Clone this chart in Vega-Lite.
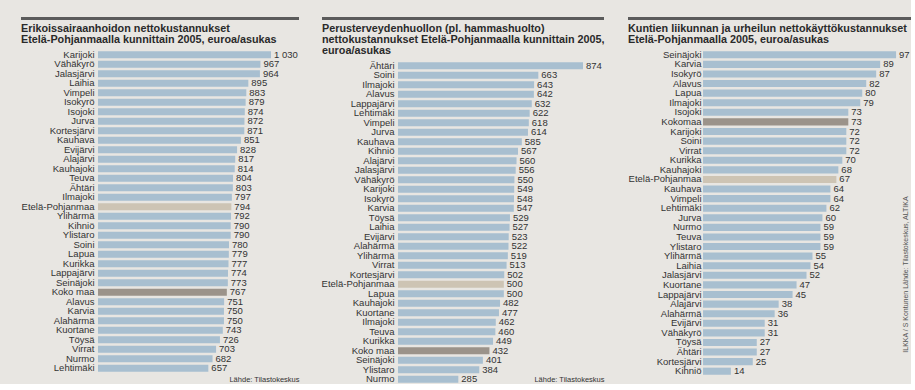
{
  "$schema": "https://vega.github.io/schema/vega-lite/v6.json",
  "background": "#e8e6e2",
  "padding": {"left": 20, "top": 16, "right": 0, "bottom": 0},
  "config": {
    "locale": {"number": {"decimal": ",", "thousands": "\u00a0", "grouping": [3], "currency": ["", ""]}},
    "view": {"stroke": null},
    "font": "Liberation Sans",
    "title": {"anchor": "start", "frame": "group", "fontSize": 10.8, "fontWeight": "bold", "color": "#2a2a2a", "lineHeight": 11, "offset": 4},
    "axisY": {"ticks": false, "tickSize": 0, "domain": false, "grid": false, "labelFontSize": 9.5, "labelColor": "#333333", "labelPadding": 4, "title": null},
    "axisX": {"labels": false, "ticks": false, "tickSize": 0, "domain": false, "grid": false, "titleFontSize": 7.5, "titleFontWeight": "normal", "titleColor": "#333333", "titleAnchor": "end"},
    "text": {"fontSize": 9.5, "color": "#333333"}
  },
  "datasets": {
    "p1": [
      {"kunta": "Karijoki", "arvo": 1030, "ryhma": "kunta"},
      {"kunta": "Vähäkyrö", "arvo": 967, "ryhma": "kunta"},
      {"kunta": "Jalasjärvi", "arvo": 964, "ryhma": "kunta"},
      {"kunta": "Laihia", "arvo": 895, "ryhma": "kunta"},
      {"kunta": "Vimpeli", "arvo": 883, "ryhma": "kunta"},
      {"kunta": "Isokyrö", "arvo": 879, "ryhma": "kunta"},
      {"kunta": "Isojoki", "arvo": 874, "ryhma": "kunta"},
      {"kunta": "Jurva", "arvo": 872, "ryhma": "kunta"},
      {"kunta": "Kortesjärvi", "arvo": 871, "ryhma": "kunta"},
      {"kunta": "Kauhava", "arvo": 851, "ryhma": "kunta"},
      {"kunta": "Evijärvi", "arvo": 828, "ryhma": "kunta"},
      {"kunta": "Alajärvi", "arvo": 817, "ryhma": "kunta"},
      {"kunta": "Kauhajoki", "arvo": 814, "ryhma": "kunta"},
      {"kunta": "Teuva", "arvo": 804, "ryhma": "kunta"},
      {"kunta": "Ähtäri", "arvo": 803, "ryhma": "kunta"},
      {"kunta": "Ilmajoki", "arvo": 797, "ryhma": "kunta"},
      {"kunta": "Etelä-Pohjanmaa", "arvo": 794, "ryhma": "maakunta"},
      {"kunta": "Ylihärmä", "arvo": 792, "ryhma": "kunta"},
      {"kunta": "Kihniö", "arvo": 790, "ryhma": "kunta"},
      {"kunta": "Ylistaro", "arvo": 790, "ryhma": "kunta"},
      {"kunta": "Soini", "arvo": 780, "ryhma": "kunta"},
      {"kunta": "Lapua", "arvo": 779, "ryhma": "kunta"},
      {"kunta": "Kurikka", "arvo": 777, "ryhma": "kunta"},
      {"kunta": "Lappajärvi", "arvo": 774, "ryhma": "kunta"},
      {"kunta": "Seinäjoki", "arvo": 773, "ryhma": "kunta"},
      {"kunta": "Koko maa", "arvo": 767, "ryhma": "maa"},
      {"kunta": "Alavus", "arvo": 751, "ryhma": "kunta"},
      {"kunta": "Karvia", "arvo": 750, "ryhma": "kunta"},
      {"kunta": "Alahärmä", "arvo": 750, "ryhma": "kunta"},
      {"kunta": "Kuortane", "arvo": 743, "ryhma": "kunta"},
      {"kunta": "Töysä", "arvo": 726, "ryhma": "kunta"},
      {"kunta": "Virrat", "arvo": 703, "ryhma": "kunta"},
      {"kunta": "Nurmo", "arvo": 682, "ryhma": "kunta"},
      {"kunta": "Lehtimäki", "arvo": 657, "ryhma": "kunta"}
    ],
    "p2": [
      {"kunta": "Ähtäri", "arvo": 874, "ryhma": "kunta"},
      {"kunta": "Soini", "arvo": 663, "ryhma": "kunta"},
      {"kunta": "Ilmajoki", "arvo": 643, "ryhma": "kunta"},
      {"kunta": "Alavus", "arvo": 642, "ryhma": "kunta"},
      {"kunta": "Lappajärvi", "arvo": 632, "ryhma": "kunta"},
      {"kunta": "Lehtimäki", "arvo": 622, "ryhma": "kunta"},
      {"kunta": "Vimpeli", "arvo": 618, "ryhma": "kunta"},
      {"kunta": "Jurva", "arvo": 614, "ryhma": "kunta"},
      {"kunta": "Kauhava", "arvo": 585, "ryhma": "kunta"},
      {"kunta": "Kihniö", "arvo": 567, "ryhma": "kunta"},
      {"kunta": "Alajärvi", "arvo": 560, "ryhma": "kunta"},
      {"kunta": "Jalasjärvi", "arvo": 556, "ryhma": "kunta"},
      {"kunta": "Vähäkyrö", "arvo": 550, "ryhma": "kunta"},
      {"kunta": "Karijoki", "arvo": 549, "ryhma": "kunta"},
      {"kunta": "Isokyrö", "arvo": 548, "ryhma": "kunta"},
      {"kunta": "Karvia", "arvo": 547, "ryhma": "kunta"},
      {"kunta": "Töysä", "arvo": 529, "ryhma": "kunta"},
      {"kunta": "Laihia", "arvo": 527, "ryhma": "kunta"},
      {"kunta": "Evijärvi", "arvo": 523, "ryhma": "kunta"},
      {"kunta": "Alahärmä", "arvo": 522, "ryhma": "kunta"},
      {"kunta": "Ylihärmä", "arvo": 519, "ryhma": "kunta"},
      {"kunta": "Virrat", "arvo": 513, "ryhma": "kunta"},
      {"kunta": "Kortesjärvi", "arvo": 502, "ryhma": "kunta"},
      {"kunta": "Etelä-Pohjanmaa", "arvo": 500, "ryhma": "maakunta"},
      {"kunta": "Lapua", "arvo": 500, "ryhma": "kunta"},
      {"kunta": "Kauhajoki", "arvo": 482, "ryhma": "kunta"},
      {"kunta": "Kuortane", "arvo": 477, "ryhma": "kunta"},
      {"kunta": "Ilmajoki\u200b", "arvo": 462, "ryhma": "kunta"},
      {"kunta": "Teuva", "arvo": 460, "ryhma": "kunta"},
      {"kunta": "Kurikka", "arvo": 449, "ryhma": "kunta"},
      {"kunta": "Koko maa", "arvo": 432, "ryhma": "maa"},
      {"kunta": "Seinäjoki", "arvo": 401, "ryhma": "kunta"},
      {"kunta": "Ylistaro", "arvo": 384, "ryhma": "kunta"},
      {"kunta": "Nurmo", "arvo": 285, "ryhma": "kunta"}
    ],
    "p3": [
      {"kunta": "Seinäjoki", "arvo": 97, "ryhma": "kunta"},
      {"kunta": "Karvia", "arvo": 89, "ryhma": "kunta"},
      {"kunta": "Isokyrö", "arvo": 87, "ryhma": "kunta"},
      {"kunta": "Alavus", "arvo": 82, "ryhma": "kunta"},
      {"kunta": "Lapua", "arvo": 80, "ryhma": "kunta"},
      {"kunta": "Ilmajoki", "arvo": 79, "ryhma": "kunta"},
      {"kunta": "Isojoki", "arvo": 73, "ryhma": "kunta"},
      {"kunta": "Kokomaa", "arvo": 73, "ryhma": "maa"},
      {"kunta": "Karijoki", "arvo": 72, "ryhma": "kunta"},
      {"kunta": "Soini", "arvo": 72, "ryhma": "kunta"},
      {"kunta": "Virrat", "arvo": 72, "ryhma": "kunta"},
      {"kunta": "Kurikka", "arvo": 70, "ryhma": "kunta"},
      {"kunta": "Kauhajoki", "arvo": 68, "ryhma": "kunta"},
      {"kunta": "Etelä-Pohjanmaa", "arvo": 67, "ryhma": "maakunta"},
      {"kunta": "Kauhava", "arvo": 64, "ryhma": "kunta"},
      {"kunta": "Vimpeli", "arvo": 64, "ryhma": "kunta"},
      {"kunta": "Lehtimäki", "arvo": 62, "ryhma": "kunta"},
      {"kunta": "Jurva", "arvo": 60, "ryhma": "kunta"},
      {"kunta": "Nurmo", "arvo": 59, "ryhma": "kunta"},
      {"kunta": "Teuva", "arvo": 59, "ryhma": "kunta"},
      {"kunta": "Ylistaro", "arvo": 59, "ryhma": "kunta"},
      {"kunta": "Ylihärmä", "arvo": 55, "ryhma": "kunta"},
      {"kunta": "Laihia", "arvo": 54, "ryhma": "kunta"},
      {"kunta": "Jalasjärvi", "arvo": 52, "ryhma": "kunta"},
      {"kunta": "Kuortane", "arvo": 47, "ryhma": "kunta"},
      {"kunta": "Lappajärvi", "arvo": 45, "ryhma": "kunta"},
      {"kunta": "Alajärvi", "arvo": 38, "ryhma": "kunta"},
      {"kunta": "Alahärmä", "arvo": 36, "ryhma": "kunta"},
      {"kunta": "Evijärvi", "arvo": 31, "ryhma": "kunta"},
      {"kunta": "Vähäkyrö", "arvo": 31, "ryhma": "kunta"},
      {"kunta": "Töysä", "arvo": 27, "ryhma": "kunta"},
      {"kunta": "Ähtäri", "arvo": 27, "ryhma": "kunta"},
      {"kunta": "Kortesjärvi", "arvo": 25, "ryhma": "kunta"},
      {"kunta": "Kihniö", "arvo": 14, "ryhma": "kunta"}
    ]
  },
  "spacing": 22,
  "hconcat": [
    {
      "spacing": 3,
      "vconcat": [
        {"width": 278, "height": 3, "data": {"values": [{}]}, "view": {"fill": "#5b5b5b", "stroke": null}, "mark": {"type": "rule", "opacity": 0}, "encoding": {}},
        {
          "width": 278, "height": 323,
          "data": {"name": "p1"},
          "title": {"text": ["Erikoissairaanhoidon nettokustannukset", "Etelä-Pohjanmaalla kunnittain 2005, euroa/asukas"]},
          "encoding": {
            "y": {"field": "kunta", "type": "nominal", "sort": null, "scale": {"paddingInner": 0.26, "paddingOuter": 0.13}, "axis": {"offset": -77}},
            "x": {"field": "arvo", "type": "quantitative", "scale": {"domain": [-458.4, 1196.7], "nice": false}, "axis": {"title": "Lähde: Tilastokeskus", "titlePadding": 2}}
          },
          "layer": [
            {"mark": {"type": "bar"}, "encoding": {"color": {"field": "ryhma", "type": "nominal", "legend": null, "scale": {"domain": ["kunta", "maakunta", "maa"], "range": ["#a8bfd0", "#cdc4b4", "#9b938a"]}}}},
            {"mark": {"type": "text", "align": "left", "baseline": "middle", "dx": 3}, "encoding": {"text": {"field": "arvo", "type": "quantitative", "format": ",d"}}}
          ]
        }
      ]
    },
    {
      "spacing": 3,
      "vconcat": [
        {"width": 282, "height": 3, "data": {"values": [{}]}, "view": {"fill": "#5b5b5b", "stroke": null}, "mark": {"type": "rule", "opacity": 0}, "encoding": {}},
        {
          "width": 282, "height": 323,
          "data": {"name": "p2"},
          "title": {"text": ["Perusterveydenhuollon (pl. hammashuolto)", "nettokustannukset Etelä-Pohjanmaalla kunnittain 2005,", "euroa/asukas"]},
          "encoding": {
            "y": {"field": "kunta", "type": "nominal", "sort": null, "scale": {"paddingInner": 0.26, "paddingOuter": 0.13}, "axis": {"offset": -76}},
            "x": {"field": "arvo", "type": "quantitative", "scale": {"domain": [-359, 973.2], "nice": false}, "axis": {"title": "Lähde: Tilastokeskus", "titleY": -5, "titleBaseline": "middle"}}
          },
          "layer": [
            {"mark": {"type": "bar"}, "encoding": {"color": {"field": "ryhma", "type": "nominal", "legend": null, "scale": {"domain": ["kunta", "maakunta", "maa"], "range": ["#a8bfd0", "#cdc4b4", "#9b938a"]}}}},
            {"mark": {"type": "text", "align": "left", "baseline": "middle", "dx": 3}, "encoding": {"text": {"field": "arvo", "type": "quantitative", "format": ",d"}}}
          ]
        }
      ]
    },
    {
      "spacing": 3,
      "vconcat": [
        {"width": 283, "height": 3, "data": {"values": [{}]}, "view": {"fill": "#5b5b5b", "stroke": null}, "mark": {"type": "rule", "opacity": 0}, "encoding": {}},
        {
          "width": 283, "height": 326,
          "data": {"name": "p3"},
          "title": {"text": ["Kuntien liikunnan ja urheilun nettokäyttökustannukset", "Etelä-Pohjanmaalla 2005, euroa/asukas"]},
          "encoding": {
            "x": {"field": "arvo", "type": "quantitative", "scale": {"domain": [-37.7, 104.5], "nice": false}, "axis": null}
          },
          "layer": [
            {"mark": {"type": "bar"}, "encoding": {
              "y": {"field": "kunta", "type": "nominal", "sort": null, "scale": {"paddingInner": 0.26, "paddingOuter": 0.13}, "axis": {"offset": -75, "labelPadding": 2}},
              "color": {"field": "ryhma", "type": "nominal", "legend": null, "scale": {"domain": ["kunta", "maakunta", "maa"], "range": ["#a8bfd0", "#cdc4b4", "#9b938a"]}}}},
            {"mark": {"type": "text", "align": "left", "baseline": "middle", "dx": 3}, "encoding": {
              "y": {"field": "kunta", "type": "nominal", "sort": null, "axis": {"orient": "right", "labels": false, "title": "ILKKA / S Kontunen Lähde: Tilastokeskus, ALTIKA", "titleAngle": 270, "titleFontSize": 7, "titleFontWeight": "normal", "titleColor": "#555555", "titleX": -6, "titleY": 224, "titleAlign": "center", "titleBaseline": "middle"}},
              "text": {"field": "arvo", "type": "quantitative", "format": ",d"}}}
          ],
          "resolve": {"axis": {"y": "independent"}}
        }
      ]
    }
  ]
}
